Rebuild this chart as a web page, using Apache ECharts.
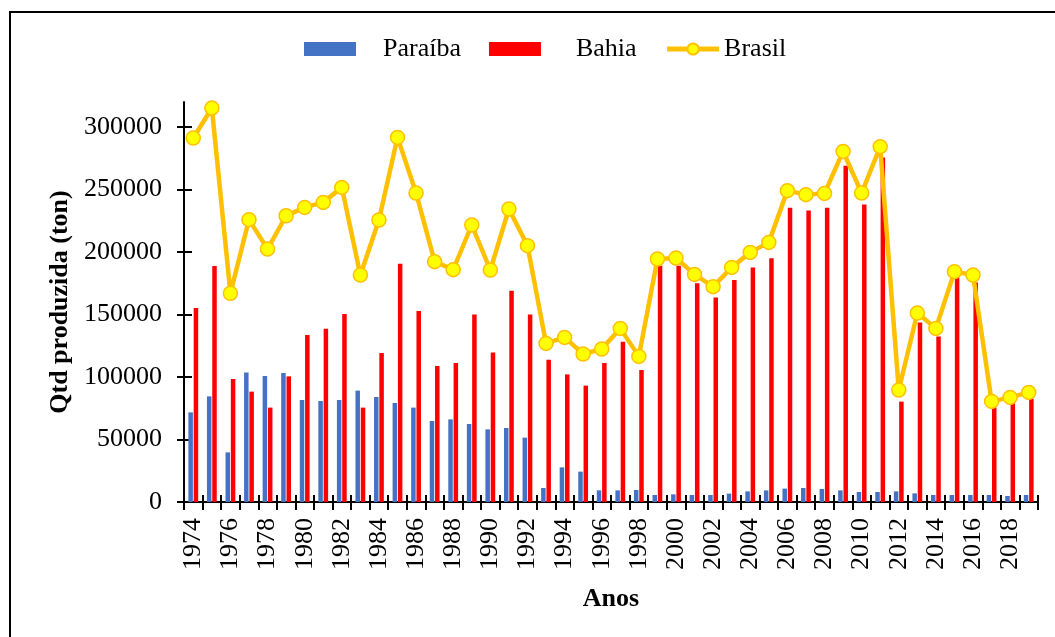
<!DOCTYPE html>
<html>
<head>
<meta charset="utf-8">
<script src="https://cdn.jsdelivr.net/npm/echarts@6/dist/echarts.min.js"></script>
<style>
  html, body { margin: 0; padding: 0; background: #fff; }
  #chart { width: 1055px; height: 637px; }
</style>
</head>
<body>
<div id="chart"></div>
<script>
var years = ['1974','1975','1976','1977','1978','1979','1980','1981','1982','1983','1984','1985',
  '1986','1987','1988','1989','1990','1991','1992','1993','1994','1995','1996','1997',
  '1998','1999','2000','2001','2002','2003','2004','2005','2006','2007','2008','2009',
  '2010','2011','2012','2013','2014','2015','2016','2017','2018','2019'];
var paraiba = [71700, 84500, 39700, 103700, 100800, 103200, 81600, 80800, 81600, 89100, 84000, 79200,
  75500, 64800, 66100, 62400, 58100, 59200, 51500, 11200, 27700, 24300, 9300, 9300,
  9600, 5600, 6100, 5600, 5600, 6700, 8500, 9300, 10700, 11200, 10400, 9300,
  8000, 8000, 8500, 6900, 5600, 5600, 5600, 5600, 4800, 5600];
var bahia = [155200, 188800, 98400, 88300, 75500, 100500, 133600, 138700, 150400, 75500, 119200, 190700,
  152800, 108800, 111200, 150100, 119700, 169100, 150100, 113900, 102100, 93100, 111200, 128300,
  105600, 189100, 189100, 175000, 163700, 177600, 187700, 195000, 235500, 233300, 235500, 269100,
  238100, 275700, 80300, 143700, 132500, 179700, 175700, 75700, 79000, 82400];
var brasil = [291200, 315200, 167000, 225900, 202400, 229000, 235700, 239700, 251700, 181600, 225600, 291700,
  247200, 192300, 185900, 221600, 185600, 234400, 205100, 126900, 131700, 118400, 122400, 138900,
  116500, 194400, 195200, 182100, 172300, 187700, 199700, 207700, 249100, 245900, 246900, 280500,
  247200, 284300, 89600, 151200, 138900, 184300, 181600, 80500, 83700, 87700];
var yTicks = [0, 50000, 100000, 150000, 200000, 250000, 300000];

var font = 'Liberation Serif';
var myChart = echarts.init(document.getElementById('chart'));
myChart.setOption({
  animation: false,
  textStyle: { fontFamily: font, color: '#000' },
  graphic: [{
    type: 'rect',
    shape: { x: 10, y: 12, width: 1100, height: 700 },
    style: { fill: 'none', stroke: '#000', lineWidth: 2 }
  }],
  legend: {
    left: 299,
    top: 31,
    itemWidth: 52,
    itemHeight: 14,
    itemGap: 28,
    textStyle: { fontSize: 26, fontFamily: font, color: '#000' },
    data: [
      { name: 'Paraíba', icon: 'rect', textStyle: { padding: [0, 0, 0, 22] } },
      { name: 'Bahia', icon: 'rect', textStyle: { padding: [0, 0, 0, 30] } },
      { name: 'Brasil', lineStyle: { width: 5 } }
    ]
  },
  grid: { left: 184, right: 17, top: 102, bottom: 135, containLabel: false },
  xAxis: [{
    type: 'category',
    data: years,
    name: 'Anos',
    nameLocation: 'middle',
    nameGap: 84,
    nameTextStyle: { fontSize: 26, fontWeight: 'bold', fontFamily: font, color: '#000' },
    axisLine: { lineStyle: { color: '#000', width: 2 } },
    axisTick: { show: true, interval: 0, length: 8, lineStyle: { color: '#000', width: 2 } },
    axisLabel: { interval: 1, rotate: 90, margin: 16, fontSize: 26, fontFamily: font, color: '#000' },
    splitLine: { show: false }
  }, {
    type: 'category',
    data: years,
    position: 'bottom',
    axisLine: { show: false },
    axisTick: { show: true, inside: true, interval: 0, length: 7, lineStyle: { color: '#000', width: 2 } },
    axisLabel: { show: false },
    splitLine: { show: false }
  }],
  yAxis: [{
    type: 'value',
    min: 0,
    max: 320000,
    name: 'Qtd produzida (ton)',
    nameLocation: 'middle',
    nameGap: 98,
    nameTextStyle: { fontSize: 26, fontWeight: 'bold', fontFamily: font, color: '#000' },
    axisLine: { show: true, lineStyle: { color: '#000', width: 2 } },
    axisTick: { show: true, length: 7, customValues: yTicks, lineStyle: { color: '#000', width: 2 } },
    axisLabel: {
      margin: 22, fontSize: 26, fontFamily: font, color: '#000', customValues: yTicks,
      formatter: function (v) { return String(v); }
    },
    splitLine: { show: false }
  }, {
    type: 'value',
    min: 0,
    max: 320000,
    position: 'left',
    axisLine: { show: false },
    axisTick: { show: true, inside: true, length: 8, customValues: yTicks, lineStyle: { color: '#000', width: 2 } },
    axisLabel: { show: false, customValues: yTicks },
    splitLine: { show: false }
  }],
  series: [{
    name: 'Paraíba',
    type: 'bar',
    data: paraiba,
    barWidth: 4.5,
    barGap: '18%',
    itemStyle: { color: '#4472C4' }
  }, {
    name: 'Bahia',
    type: 'bar',
    data: bahia,
    barWidth: 4.5,
    barGap: '18%',
    itemStyle: { color: '#FF0000' }
  }, {
    name: 'Brasil',
    type: 'line',
    data: brasil,
    symbol: 'circle',
    symbolSize: 14,
    showAllSymbol: true,
    lineStyle: { color: '#FFC000', width: 4.5 },
    itemStyle: { color: '#FFFF00', borderColor: '#FFC000', borderWidth: 1.5 },
    z: 5
  }]
});
</script>
</body>
</html>
